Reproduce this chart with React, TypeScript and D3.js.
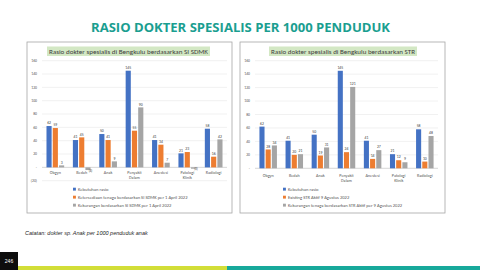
import React from "react";
import * as d3 from "d3";

const categories = ["Obgyn", "Bedah", "Anak", "Penyakit Dalam", "Anestesi", "Patologi Klinik", "Radiologi"];

const kebutuhan = [62, 41, 50, 145, 41, 21, 58];
const sdmkTersedia = [59, 45, 41, 55, 34, 23, 16];
const sdmkKurang = [3, -4, 9, 90, 7, -2, 42];
const strExisting = [28, 20, 19, 24, 14, 12, 10];
const strKurang = [34, 21, 31, 121, 27, 9, 48];

const leftTicks = [-20, 0, 20, 40, 60, 80, 100, 120, 140, 160];
const rightTicks = [0, 20, 40, 60, 80, 100, 120, 140, 160];

const leftLegend = [
  "Kebutuhan rasio",
  "Ketersediaan tenaga berdasarkan SI SDMK per 1 April 2022",
  "Kekurangan berdasarkan SI SDMK per 1 April 2022",
];
const rightLegend = [
  "Kebutuhan rasio",
  "Existing STR Aktif 9 Agustus 2022",
  "Kekurangan tenaga berdasarkan STR Aktif per 9 Agustus 2022",
];

const colors = ["#4472c4", "#ed7d31", "#a5a5a5"];
const font = "Calibri, Carlito, 'Open Sans', sans-serif";

const fmt = (v: number) => (v === 0 ? "-" : v < 0 ? `(${Math.abs(v)})` : `${v}`);

type ChartProps = {
  x: number;
  title: string;
  titleBox: [number, number];
  series: number[][];
  ticks: number[];
  legend: string[];
  plot: { left: number; right: number; top: number; bottom: number };
  labelY: number;
  legendX: number;
};

function Chart({ x, title, titleBox, series, ticks, legend, plot, labelY, legendX }: ChartProps) {
  const y = d3.scaleLinear().domain([d3.min(ticks)!, 160]).range([plot.bottom, plot.top]);
  const x0 = d3.scaleBand().domain(categories).range([plot.left, plot.right]).paddingInner(0.33).paddingOuter(0.17);
  const x1 = d3.scaleBand().domain(["0", "1", "2"]).range([0, x0.bandwidth()]).paddingInner(0.18);
  const zero = y(0);

  return (
    <g>
      <rect x={x} y={42} width={205} height={171} fill="#fff" stroke="#a6a6a6" strokeWidth={0.8} />
      <rect x={titleBox[0]} y={46.5} width={titleBox[1] - titleBox[0]} height={9.5} fill="#d3e8c4" />
      <text
        x={(titleBox[0] + titleBox[1]) / 2}
        y={53.8}
        fontSize={6.4}
        textAnchor="middle"
        fill="#404040"
        fontFamily={font}
        textLength={titleBox[1] - titleBox[0] - 4}
        lengthAdjust="spacingAndGlyphs"
      >
        {title}
      </text>
      {ticks.map((t) => (
        <g key={t}>
          <line x1={plot.left} x2={plot.right} y1={y(t)} y2={y(t)} stroke="#e3e3e3" strokeWidth={0.5} />
          <text x={plot.left - 5} y={y(t) + 1.3} fontSize={3.8} textAnchor="end" fill="#595959" fontFamily={font}>
            {fmt(t)}
          </text>
        </g>
      ))}
      <line x1={plot.left} x2={plot.right} y1={zero} y2={zero} stroke="#bfbfbf" strokeWidth={0.5} />
      {series.map((vals, si) =>
        vals.map((v, ci) => {
          const bx = x0(categories[ci])! + x1(String(si))!;
          const top = Math.min(y(v), zero);
          const h = Math.max(Math.abs(y(v) - zero), 0.6);
          const neg = v < 0;
          return (
            <g key={`${si}-${ci}`}>
              <rect x={bx} y={top} width={x1.bandwidth()} height={h} fill={colors[si]} />
              <text
                x={bx + x1.bandwidth() / 2 + (neg ? 2.5 : 0)}
                y={neg ? y(v) + 1.5 : y(v) - 1.8}
                fontSize={neg ? 3.2 : 3.8}
                textAnchor="middle"
                fill="#404040"
                fontFamily={font}
              >
                {fmt(v)}
              </text>
            </g>
          );
        })
      )}
      {categories.map((c) => {
        const parts = c.split(" ");
        const cx = x0(c)! + x0.bandwidth() / 2;
        return (
          <text key={c} x={cx} y={labelY} fontSize={4.2} textAnchor="middle" fill="#595959" fontFamily={font}>
            {parts.map((p, i) => (
              <tspan key={i} x={cx} dy={i === 0 ? 0 : 5}>
                {p}
              </tspan>
            ))}
          </text>
        );
      })}
      {legend.map((l, i) => (
        <g key={l} transform={`translate(${legendX},${190.5 + i * 8})`}>
          <rect x={0} y={-2.8} width={2.9} height={2.9} fill={colors[i]} />
          <text x={5} y={0} fontSize={4.6} fill="#595959" fontFamily={font}>
            {l}
          </text>
        </g>
      ))}
    </g>
  );
}

export default function App() {
  return (
    <svg
      width={480}
      height={270}
      viewBox="0 0 480 270"
      style={{ position: "absolute", left: 0, top: 0, background: "#fff" }}
    >
      <rect width={480} height={270} fill="#fff" />
      <text
        x={240.5}
        y={31.5}
        fontSize={13}
        fontWeight="bold"
        textAnchor="middle"
        fill="#1a9e90"
        fontFamily="'Open Sans', Lato, sans-serif"
        textLength={299}
        lengthAdjust="spacingAndGlyphs"
      >
        RASIO DOKTER SPESIALIS PER 1000 PENDUDUK
      </text>
      <Chart
        x={27}
        title="Rasio dokter spesialis di Bengkulu berdasarkan SI SDMK"
        titleBox={[47, 210]}
        series={[kebutuhan, sdmkTersedia, sdmkKurang]}
        ticks={leftTicks}
        legend={leftLegend}
        plot={{ left: 42, right: 227, top: 60.7, bottom: 180.7 }}
        labelY={174}
        legendX={73}
      />
      <Chart
        x={240}
        title="Rasio dokter spesialis di Bengkulu berdasarkan STR"
        titleBox={[269, 417]}
        series={[kebutuhan, strExisting, strKurang]}
        ticks={rightTicks}
        legend={rightLegend}
        plot={{ left: 255, right: 438, top: 60.7, bottom: 168.3 }}
        labelY={177}
        legendX={283}
      />
      <text x={25} y={235} fontSize={5.5} fontStyle="italic" fill="#262626" fontFamily="'Liberation Sans', Arial, sans-serif">
        Catatan: dokter sp. Anak per 1000 penduduk anak
      </text>
      <rect x={0} y={252} width={18} height={18} fill="#0d0d0d" />
      <text x={9} y={262.5} fontSize={5} textAnchor="middle" fill="#fff" fontFamily="'Liberation Sans', Arial, sans-serif">
        246
      </text>
      <rect x={18} y={266} width={209} height={4} fill="#d2de38" />
      <rect x={227} y={266} width={253} height={4} fill="#17a99b" />
    </svg>
  );
}
